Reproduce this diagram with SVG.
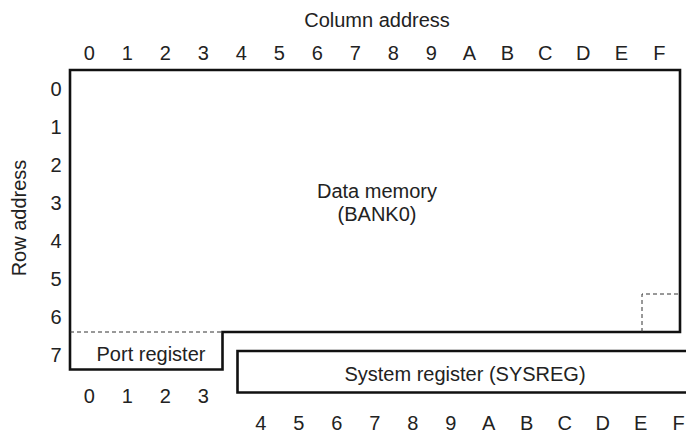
<svg xmlns="http://www.w3.org/2000/svg" width="686" height="436" viewBox="0 0 686 436">
<style>
text{font-family:"Liberation Sans",Arial,sans-serif;font-size:20px;fill:#222;text-anchor:middle}
.box{fill:none;stroke:#111;stroke-width:2.6;stroke-linejoin:miter}
.dash{fill:none;stroke:#333;stroke-width:1;stroke-dasharray:4 3}
</style>
<rect width="686" height="436" fill="#fff"/>
<g id="axis-titles">
<text x="377" y="26.5">Column address</text>
<text transform="translate(26 218) rotate(-90)">Row address</text>
</g>
<g id="column-labels-top">
<text x="89.3" y="60">0</text><text x="127.3" y="60">1</text><text x="165.3" y="60">2</text><text x="203.3" y="60">3</text>
<text x="241.3" y="60">4</text><text x="279.3" y="60">5</text><text x="317.3" y="60">6</text><text x="355.3" y="60">7</text>
<text x="393.3" y="60">8</text><text x="431.3" y="60">9</text><text x="469.3" y="60">A</text><text x="507.3" y="60">B</text>
<text x="545.3" y="60">C</text><text x="583.3" y="60">D</text><text x="621.3" y="60">E</text><text x="659.3" y="60">F</text>
</g>
<g id="row-labels">
<text x="56" y="96">0</text><text x="56" y="134">1</text><text x="56" y="172">2</text><text x="56" y="210">3</text>
<text x="56" y="248">4</text><text x="56" y="286">5</text><text x="56" y="324">6</text><text x="56" y="362">7</text>
</g>
<g id="column-labels-port">
<text x="89.3" y="403">0</text><text x="127.3" y="403">1</text><text x="165.3" y="403">2</text><text x="203.3" y="403">3</text>
</g>
<g id="column-labels-sysreg">
<text x="260.7" y="430">4</text><text x="298.7" y="430">5</text><text x="336.7" y="430">6</text><text x="374.7" y="430">7</text>
<text x="412.7" y="430">8</text><text x="450.7" y="430">9</text><text x="488.7" y="430">A</text><text x="526.7" y="430">B</text>
<text x="564.7" y="430">C</text><text x="602.7" y="430">D</text><text x="640.7" y="430">E</text><text x="678.7" y="430">F</text>
</g>
<g id="data-memory">
<path class="box" d="M70,70 H680 V332 H222.5 V369.5 H70 Z"/>
<path class="dash" d="M70,332 H222.5"/>
<path class="dash" d="M642,332 V294 H680"/>
<text x="377" y="198">Data memory</text>
<text x="377" y="221">(BANK0)</text>
</g>
<g id="port-register">
<text x="151" y="361">Port register</text>
</g>
<g id="system-register">
<path class="box" d="M700,351 H237.5 V392.5 H700"/>
<text x="465" y="381">System register (SYSREG)</text>
</g>
<g id="connectors"></g>
</svg>
